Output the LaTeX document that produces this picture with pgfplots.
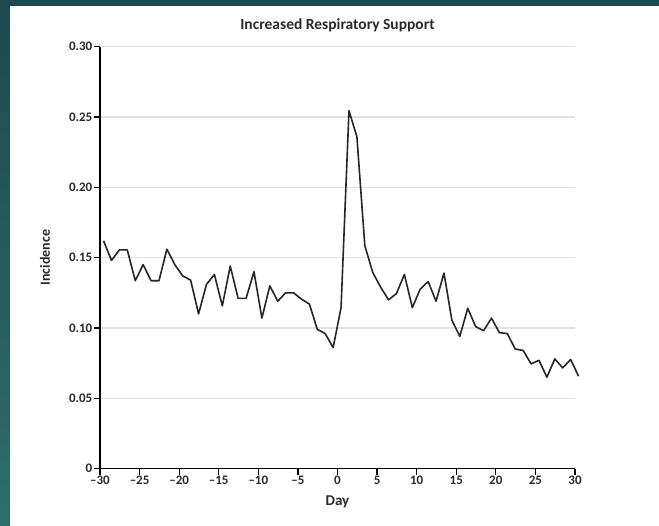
\documentclass[border=0pt]{standalone}
\usepackage{pgfplots}
\pgfplotsset{compat=1.18}
\usepackage{pgfplotstable}
\usepackage{fontspec}
\setmainfont{Carlito}
\definecolor{bgtop}{HTML}{1D4A50}
\definecolor{bgbot}{HTML}{2F6D68}
\definecolor{gridc}{HTML}{E2E2E2}
\definecolor{txt}{HTML}{2A2A2A}
\pgfplotstableread{
d v
-30 0.162
-29 0.148
-28 0.1555
-27 0.1555
-26 0.1336
-25 0.145
-24 0.1336
-23 0.1336
-22 0.156
-21 0.145
-20 0.137
-19 0.134
-18 0.110
-17 0.131
-16 0.138
-15 0.1157
-14 0.144
-13 0.121
-12 0.121
-11 0.140
-10 0.107
-9 0.130
-8 0.119
-7 0.125
-6 0.125
-5 0.1205
-4 0.117
-3 0.099
-2 0.096
-1 0.086
0 0.1145
1 0.2545
2 0.236
3 0.1586
4 0.1395
5 0.129
6 0.120
7 0.1245
8 0.138
9 0.1145
10 0.1276
11 0.133
12 0.119
13 0.139
14 0.1055
15 0.094
16 0.114
17 0.101
18 0.098
19 0.107
20 0.0967
21 0.096
22 0.085
23 0.084
24 0.0745
25 0.077
26 0.065
27 0.078
28 0.0716
29 0.0776
30 0.0657
}\datatable
\begin{document}
\begin{tikzpicture}
\useasboundingbox (0pt,0pt) rectangle (659pt,526pt);
\shade[top color=bgtop,bottom color=bgbot] (0pt,0pt) rectangle (659pt,526pt);
\fill[white] (10pt,0pt) rectangle (659pt,520pt);
\begin{axis}[
  at={(100pt,57.4pt)}, anchor=south west,
  scale only axis, width=475pt, height=421.9pt,
  xmin=-30, xmax=30, ymin=0, ymax=0.30,
  axis lines*=left,
  axis line style={black, line width=1.4pt},
  clip=false,
  ymajorgrids, grid style={gridc, line width=1.3pt},
  tick align=outside, major tick length=6pt,
  tick style={black, line width=1.3pt},
  xtick={-30,-25,...,30},
  xticklabels={–30,–25,–20,–15,–10,–5,0,5,10,15,20,25,30},
  ytick={0,0.05,0.1,0.15,0.2,0.25,0.3},
  yticklabels={0,0.05,0.10,0.15,0.20,0.25,0.30},
  ticklabel style={font=\bfseries\fontsize{13}{15}\selectfont, text=txt},
  xticklabel style={inner sep=1pt},
  yticklabel style={inner sep=1.5pt},
  title={Increased Respiratory Support},
  title style={at={(axis description cs:0.5,1)}, anchor=base, yshift=11pt, font=\bfseries\fontsize{15.5}{17}\selectfont, text=txt},
  xlabel={Day},
  xlabel style={at={(axis description cs:0.5,0)}, anchor=base, yshift=-37pt, font=\bfseries\fontsize{15}{17}\selectfont, text=txt},
  ylabel={Incidence},
  ylabel style={at={(axis description cs:-0.1158,0.5)}, anchor=center, rotate=0, font=\bfseries\fontsize{14}{16}\selectfont, text=txt},
]
\addplot[color=black!85, line width=1.6pt, line join=round, mark=none] table[x expr=\thisrow{d}+0.45, y=v] {\datatable};
\end{axis}
\end{tikzpicture}
\end{document}
